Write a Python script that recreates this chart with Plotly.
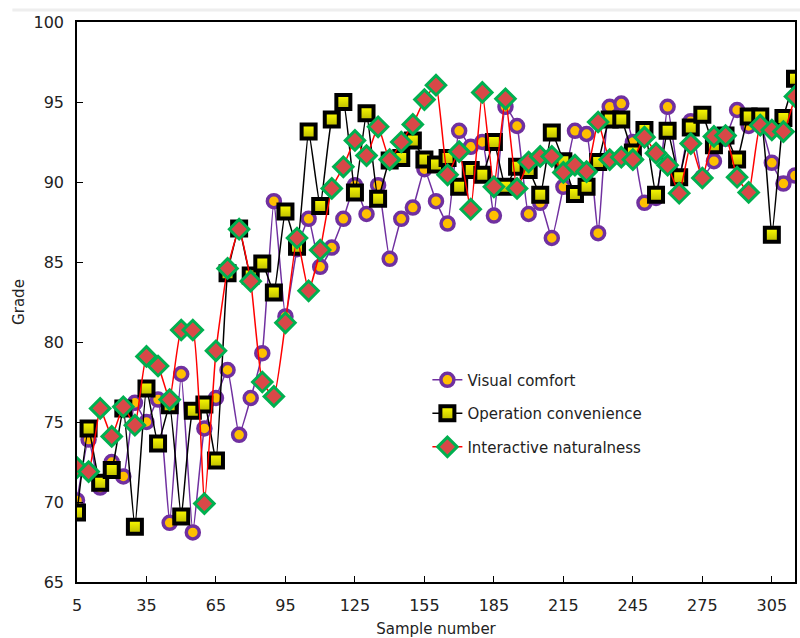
import plotly.graph_objects as go

x_samples = list(range(5, 320, 5))

visual_comfort = [70.1, 73.9, 70.9, 72.5, 71.6, 76.2, 75.0, 76.4, 68.7, 78.0,
                  68.1, 74.6, 76.5, 78.25, 74.2, 76.5, 79.3, 88.8, 81.6, 85.8,
                  87.7, 84.7, 85.9, 87.7, 89.8, 88.0, 89.8, 85.2, 87.7, 88.4,
                  90.8, 88.8, 87.4, 93.2, 92.2, 92.5, 87.9, 94.7, 93.5, 88.0,
                  88.7, 86.5, 89.7, 93.2, 93.0, 86.8, 94.7, 94.9, 92.5, 88.7,
                  89.0, 94.7, 90.3, 93.8, 90.3, 91.3, 92.7, 94.5, 93.5, 93.6,
                  91.2, 89.9, 90.4]

operation_convenience = [69.35, 74.6, 71.2, 72.0, 75.85, 68.45, 77.1, 73.65, 76.05, 69.1,
                         75.7, 76.1, 72.6, 84.3, 87.1, 84.15, 84.9, 83.1, 88.15, 85.95,
                         93.15, 88.5, 93.9, 95.0, 89.35, 94.3, 88.95, 91.35, 91.5, 92.6,
                         91.4, 91.1, 91.5, 89.7, 90.75, 90.45, 92.5, 89.7, 90.95, 90.75,
                         89.2, 93.1, 91.3, 89.25, 89.7, 91.25, 93.9, 93.9, 91.85, 93.25,
                         89.2, 93.2, 90.3, 93.4, 94.2, 92.3, 92.9, 91.4, 94.1, 94.1,
                         86.7, 94.0, 96.45]

interactive_naturalness = [72.15, 71.9, 75.85, 74.1, 75.95, 74.8, 79.1, 78.5, 76.4, 80.75,
                           80.75, 69.9, 79.45, 84.6, 87.05, 83.8, 77.5, 76.6, 81.2, 86.5,
                           83.2, 85.75, 89.6, 90.95, 92.6, 91.65, 93.45, 91.4, 92.5, 93.6,
                           95.15, 96.05, 90.45, 91.9, 88.3, 95.6, 89.7, 95.2, 89.6, 91.25,
                           91.6, 91.6, 90.6, 91.05, 90.65, 93.75, 91.4, 91.55, 91.4, 92.8,
                           91.8, 91.05, 89.3, 92.4, 90.25, 92.85, 92.9, 90.3, 89.35, 93.55,
                           93.25, 93.15, 95.35]

series_names = ["Visual comfort", "Operation convenience", "Interactive naturalness"]
x_ticks = [5, 35, 65, 95, 125, 155, 185, 215, 245, 275, 305]

fig = go.Figure()

fig.add_trace(go.Scatter(
    x=x_samples, y=visual_comfort, name=series_names[0], mode="lines+markers",
    line=dict(color="#7030A0", width=1.5, shape="spline", smoothing=0.4),
    marker=dict(symbol="circle", size=13, color="#FFC000",
                line=dict(color="#7030A0", width=3.5)),
    legendgroup="a",
))
fig.add_trace(go.Scatter(
    x=x_samples, y=operation_convenience, name=series_names[1], mode="lines+markers",
    line=dict(color="#000000", width=1.5, shape="spline", smoothing=0.4),
    marker=dict(symbol="square", size=14, color="#FFFF00",
                gradient=dict(type="vertical", color="#B8B800"),
                line=dict(color="#000000", width=4)),
    legendgroup="b",
))
fig.add_trace(go.Scatter(
    x=x_samples, y=interactive_naturalness, name=series_names[2], mode="lines+markers",
    line=dict(color="#FF0000", width=1.5, shape="spline", smoothing=0.4),
    marker=dict(symbol="diamond", size=15, color="#D94848",
                line=dict(color="#00B050", width=3)),
    legendgroup="c",
))

font_family = "DejaVu Sans, Verdana, sans-serif"

fig.update_layout(
    width=800, height=638,
    margin=dict(l=77, r=3, t=22, b=56),
    paper_bgcolor="white", plot_bgcolor="white",
    font=dict(family=font_family, size=16, color="#222222"),
    showlegend=True,
    legend=dict(x=0.488, y=0.39, xanchor="left", yanchor="top",
                bgcolor="rgba(0,0,0,0)", font=dict(size=15, color="#222222"),
                tracegroupgap=11, traceorder="grouped"),
    xaxis=dict(range=[5, 315], tickmode="array", tickvals=x_ticks,
               ticks="inside", ticklen=6, tickcolor="black", tickwidth=1,
               ticklabelstandoff=8,
               showline=True, linecolor="black", linewidth=1.5, mirror=True,
               showgrid=False, zeroline=False,
               title=dict(text="Sample number", standoff=10,
                          font=dict(size=15))),
    yaxis=dict(range=[65, 100], dtick=5, tick0=65,
               ticks="inside", ticklen=6, tickcolor="black", tickwidth=1,
               ticklabelstandoff=8,
               showline=True, linecolor="black", linewidth=1.5, mirror=True,
               showgrid=False, zeroline=False,
               title=dict(text="Grade", standoff=5, font=dict(size=15))),
    shapes=[dict(type="line", xref="paper", yref="paper", x0=-0.09, x1=1.01,
                 y0=1.0214, y1=1.0214, line=dict(color="#EEEEEE", width=3))],
)

fig.write_html("out.html")
